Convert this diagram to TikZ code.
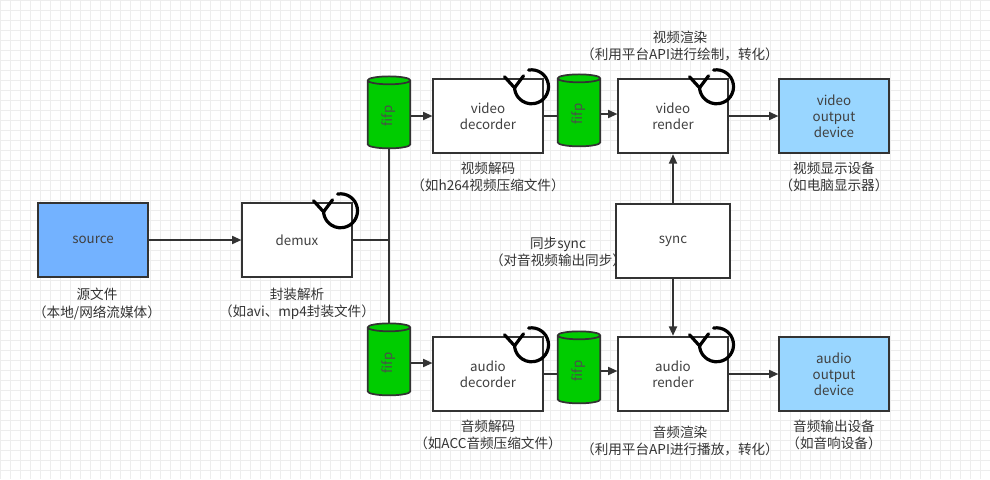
\documentclass[tikz,border=0pt]{standalone}
\usepackage{fontspec}
\setmainfont{Noto Sans CJK SC}
\usetikzlibrary{shapes.geometric,arrows.meta}
\begin{document}
\begin{tikzpicture}[x=0.75pt,y=-0.75pt,
 box/.style={draw=black!80,line width=1.3pt,fill=white,minimum width=82pt,minimum height=56pt,align=center,font=\fontsize{10}{12}\selectfont,text=black!75},
 dev/.style={box,fill=blue!40!cyan!40!white},
 fifo/.style={cylinder,shape border rotate=90,draw=black!80,line width=1.3pt,fill=green!80!black,minimum width=32pt,minimum height=54pt,aspect=0.35,font=\fontsize{10}{11}\selectfont,text=black!70},
 lbl/.style={align=center,font=\fontsize{10.2}{13}\selectfont,text=black!80},
 ar/.style={draw=black!80,line width=1.3pt,-{Triangle[length=7pt,width=6pt]}},
 ln/.style={draw=black!80,line width=1.3pt},
 spin/.style={line width=2.4pt,line cap=round,line join=miter}]
\useasboundingbox (0,0) rectangle (990,479);
\foreach \i in {0,10,...,990} \draw[black!7] (\i,0)--(\i,479);
\foreach \j in {0,10,...,479} \draw[black!7] (0,\j)--(990,\j);
\node[box,fill=blue!55!cyan!55!white] (src) at (93,240) {source};
\node[box] (dmx) at (297,240) {demux};
\node[box] (vd) at (488,116) {video\\decorder};
\node[box] (ad) at (488,374) {audio\\decorder};
\node[box] (vr) at (673,116) {video\\render};
\node[box] (ar) at (673,374) {audio\\render};
\node[box,minimum width=86pt] (sy) at (673,241) {sync};
\node[dev] (vo) at (834,116) {video\\output\\device};
\node[dev] (ao) at (834,374) {audio\\output\\device};
\node[fifo] (f1) at (389,116) {\rotatebox{90}{fifp}};
\node[fifo] (f2) at (579,114) {\rotatebox{90}{fifp}};
\node[fifo] (f3) at (389,363) {\rotatebox{90}{fifp}};
\node[fifo] (f4) at (579,371) {\rotatebox{90}{fifp}};
\draw[ar] (src) -- (dmx);
\draw[ln] (f1.bottom) -- (f3.top);
\coordinate (bj) at (389,240);
\draw[ln] (dmx.east) -- (bj);
\draw[ar] (f1.east) -- (vd.west|-f1.east);
\draw[ar] (f3.east) -- (ad.west|-f3.east);
\draw[ln] (vd.east) -- (f2.west|-vd.east);
\draw[ln] (ad.east) -- (f4.west|-ad.east);
\draw[ar] (f2.east) -- (vr.west|-f2.east);
\draw[ar] (f4.east) -- (ar.west|-f4.east);
\draw[ar] (vr) -- (vo);
\draw[ar] (ar) -- (ao);
\draw[ar] (sy) -- (vr);
\draw[ar] (sy) -- (ar);
\foreach \n in {dmx,vd,ad,vr,ar}{
 \coordinate (c\n) at ([shift={(-12,9)}]\n.north east);
 \begin{scope}[shift={(c\n)},x=0.75pt,y=0.75pt]
 \draw[spin] (100:17) arc[start angle=100,end angle=-178,radius=12.75pt];
 \draw[spin] (-27,10) -- (-17,-1) -- (-8,11);
 \end{scope}
}
\node[lbl] (l1) at (97,304) {源文件\\（本地/网络流媒体）};
\node[lbl] (l2) at (297,304) {封装解析\\（如avi、mp4封装文件）};
\node[lbl] (l3) at (488,177) {视频解码\\（如h264视频压缩文件）};
\node[lbl] (l4) at (488,435) {音频解码\\（如ACC音频压缩文件）};
\node[lbl] (l5) at (680,46) {视频渲染\\（利用平台API进行绘制，转化）};
\node[lbl] (l6) at (680,441) {音频渲染\\（利用平台API进行播放，转化）};
\node[lbl] (l7) at (834,177) {视频显示设备\\（如电脑显示器）};
\node[lbl] (l8) at (834,435) {音频输出设备\\（如音响设备）};
\node[lbl] (l9) at (558,252) {同步sync\\（对音视频输出同步）};
\end{tikzpicture}
\end{document}
